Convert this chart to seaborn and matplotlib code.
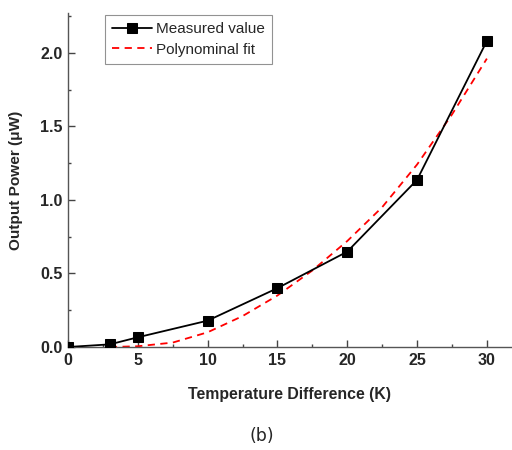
import matplotlib
matplotlib.use("Agg")
import matplotlib.pyplot as plt
import seaborn as sns
import pandas as pd
from matplotlib.ticker import MultipleLocator

# Measured data
temp_diff = [0, 3, 5, 10, 15, 20, 25, 30]
power_measured = [0.0, 0.018, 0.066, 0.179, 0.40, 0.648, 1.136, 2.08]

# Polynomial fit curve
fit_x = [3, 5, 7.5, 10, 12.5, 15, 17.5, 20, 22.5, 25, 27.5, 30]
fit_y = [0.0, 0.005, 0.03, 0.10, 0.21, 0.35, 0.52, 0.72, 0.95, 1.24, 1.58, 1.96]

x_ticks = [0, 5, 10, 15, 20, 25, 30]
y_ticks = [0.0, 0.5, 1.0, 1.5, 2.0]

sns.set_style("ticks")
plt.rcParams['font.family'] = ['Liberation Sans', 'DejaVu Sans']

fig = plt.figure(figsize=(5.12, 4.5), dpi=100)
ax = fig.add_axes([68 / 512, (450 - 347) / 450, 1 - 68 / 512, (347 - 13) / 450])

meas = pd.DataFrame({"x": temp_diff, "y": power_measured})
fit = pd.DataFrame({"x": fit_x, "y": fit_y})

sns.lineplot(data=meas, x="x", y="y", ax=ax, color="black", marker="s",
             markersize=7.5, markeredgecolor="black", linewidth=1.3,
             label="Measured value", zorder=3)
sns.lineplot(data=fit, x="x", y="y", ax=ax, color="red", linewidth=1.3,
             linestyle=(0, (4, 3)), label="Polynominal fit", zorder=2)

ax.set_xlim(0, 31.8)
ax.set_ylim(0, 2.27)
ax.set_xticks(x_ticks)
ax.set_yticks(y_ticks)
ax.xaxis.set_minor_locator(MultipleLocator(2.5))
ax.yaxis.set_minor_locator(MultipleLocator(0.25))
ax.set_xticklabels([str(v) for v in x_ticks], fontweight="bold", fontsize=11.5)
ax.set_yticklabels([f"{v:.1f}" for v in y_ticks], fontweight="bold", fontsize=11.5)
ax.tick_params(axis="both", which="major", direction="in", length=5, width=1,
               color="#444444", pad=4)
ax.tick_params(axis="both", which="minor", direction="in", length=2.5, width=1,
               color="#444444")
sns.despine(ax=ax)
for s in ["left", "bottom"]:
    ax.spines[s].set_color("#555555")
    ax.spines[s].set_linewidth(1)

ax.set_xlabel("Temperature Difference (K)", fontweight="bold", fontsize=11.4, labelpad=14)
ax.set_ylabel("Output Power (\u03bcW)", fontweight="bold", fontsize=11.1, labelpad=12)

leg = ax.legend(loc="upper left", bbox_to_anchor=(0.084, 0.994), fontsize=11,
                frameon=True, fancybox=False, edgecolor="#777777",
                handlelength=2.6, handletextpad=0.3, borderpad=0.45,
                labelspacing=0.45, borderaxespad=0.0)
leg.get_frame().set_linewidth(0.8)

fig.text(262 / 512, 1 - 436 / 450, "(b)", ha="center", va="center",
         fontsize=12.5, family="DejaVu Sans")

fig.savefig("out.png", dpi=100)
